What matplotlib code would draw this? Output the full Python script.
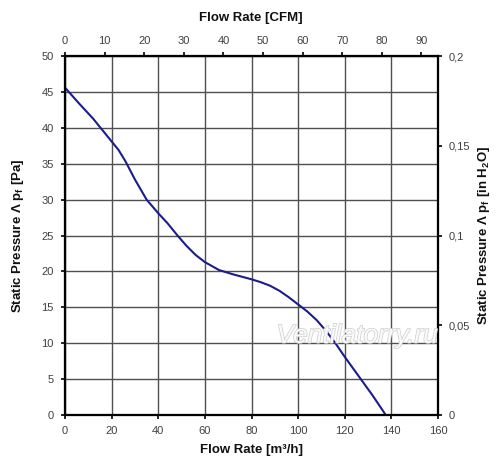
import matplotlib
matplotlib.use("Agg")
import matplotlib.pyplot as plt
import matplotlib.patheffects as pe
from matplotlib.ticker import FixedLocator, FuncFormatter

plt.rcParams['font.family'] = ['Liberation Sans', 'DejaVu Sans']
plt.rcParams['mathtext.fontset'] = 'custom'
plt.rcParams['mathtext.rm'] = 'Liberation Sans'
plt.rcParams['mathtext.bf'] = 'Liberation Sans:bold'

# Data (flow in m3/h, static pressure in Pa)
flow = [0, 6, 12, 20, 23, 26, 30, 35, 40, 44, 48, 52, 56, 60, 66, 72, 80, 84, 88, 92,
        96, 100, 104, 108, 112, 116, 120, 126, 132, 137.6]
pressure = [45.6, 43.4, 41.3, 38.1, 36.9, 35.3, 32.8, 30.0, 28.1, 26.7, 25.1, 23.6,
            22.3, 21.3, 20.2, 19.6, 18.9, 18.5, 18.0, 17.3, 16.4, 15.4, 14.4, 13.2,
            11.7, 10.0, 8.1, 5.4, 2.7, 0.0]

x_ticks = [0, 20, 40, 60, 80, 100, 120, 140, 160]
y_ticks = [0, 5, 10, 15, 20, 25, 30, 35, 40, 45, 50]
cfm_ticks = [0, 10, 20, 30, 40, 50, 60, 70, 80, 90]
inh2o_ticks = [0, 0.05, 0.1, 0.15, 0.2]
inh2o_labels = ['0', '0,05', '0,1', '0,15', '0,2']

M3H_PER_CFM = 1.699

fig = plt.figure(figsize=(5.0, 4.73), dpi=100)
ax = fig.add_axes([0.13, 0.1226, 0.746, 0.759])

ax.plot(flow, pressure, color='#1c1c8a', lw=1.5, zorder=3,
        solid_joinstyle='round')

ax.set_xlim(0, 160)
ax.set_ylim(0, 50)
ax.set_xticks(x_ticks)
ax.set_yticks(y_ticks)
ax.grid(True, color='#505050', lw=1.0)
ax.set_axisbelow(True)

tick_col = '#404040'
ax.tick_params(axis='both', labelsize=8, colors='black', labelcolor=tick_col,
               length=3, width=1.2, direction='out', pad=5)
for s in ax.spines.values():
    s.set_linewidth(1.5)
    s.set_color('black')

# Top axis (CFM)
axt = ax.twiny()
axt.set_xlim(0, 160 / M3H_PER_CFM)
axt.xaxis.set_major_locator(FixedLocator(cfm_ticks))
axt.tick_params(axis='x', labelsize=8, labelcolor=tick_col, length=3, width=1.2,
                direction='out', pad=4)

# Right axis (in H2O)
axr = ax.twinx()
axr.set_ylim(0, 0.2)
axr.yaxis.set_major_locator(FixedLocator(inh2o_ticks))
axr.yaxis.set_major_formatter(FuncFormatter(lambda v, p: inh2o_labels[inh2o_ticks.index(round(v, 2))]))
axr.tick_params(axis='y', labelsize=8, labelcolor=tick_col, length=3, width=1.2,
                direction='out', pad=5)
for a in (axt, axr):
    for s in a.spines.values():
        s.set_linewidth(1.5)
        s.set_color('black')

lab = dict(fontsize=9.5, fontweight='bold', color='#111111')
fig.text(0.502, 0.962, 'Flow Rate [CFM]', ha='center', va='center', **lab)
fig.text(0.502, 0.048, 'Flow Rate [m³/h]', ha='center', va='center', **lab)
fig.text(0.036, 0.502, r'Static Pressure Λ p$_{\mathbf{f}}$ [Pa]', rotation=90,
         ha='center', va='center', **lab)
fig.text(0.968, 0.502, r'Static Pressure Λ p$_{\mathbf{f}}$ [in H$_{\mathbf{2}}$O]', rotation=90,
         ha='center', va='center', **lab)

# Watermark
fig.text(0.714, 0.290, 'Ventilatorry.ru', ha='center', va='center', fontsize=19,
         style='italic', color='#fafafa', zorder=10,
         path_effects=[pe.withStroke(linewidth=1.0, foreground='#cccccc')])

fig.savefig('out.png', dpi=100)
